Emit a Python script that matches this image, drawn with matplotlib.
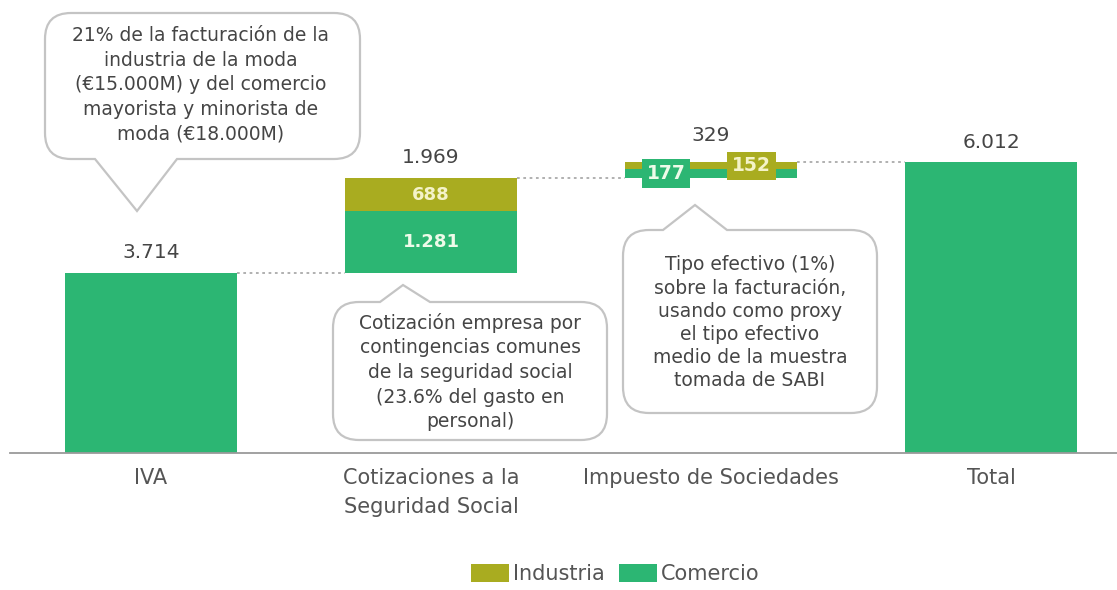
import matplotlib
matplotlib.use("Agg")
import matplotlib.pyplot as plt
from matplotlib.patches import Patch, PathPatch
from matplotlib.path import Path

# datos (millones de euros)
categorias = ["IVA", "Cotizaciones a la\nSeguridad Social", "Impuesto de Sociedades", "Total"]
comercio = [3714, 1281, 177]
industria = [0, 688, 152]

notas = [
    "21% de la facturación de la\nindustria de la moda\n(€15.000M) y del comercio\nmayorista y minorista de\nmoda (€18.000M)",
    "Cotización empresa por\ncontingencias comunes\nde la seguridad social\n(23.6% del gasto en\npersonal)",
    "Tipo efectivo (1%)\nsobre la facturación,\nusando como proxy\nel tipo efectivo\nmedio de la muestra\ntomada de SABI",
]

verde = "#2cb673"
oliva = "#a9ac20"
gris_texto = "#454545"


def fmt(v):
    return f"{v:,.0f}".replace(",", ".")


fig = plt.figure(figsize=(11.17, 5.90), dpi=100)

# capa de anotaciones en pixeles (y hacia abajo)
ov = fig.add_axes([0, 0, 1, 1], zorder=0)
ov.set_xlim(0, 1117)
ov.set_ylim(590, 0)
ov.axis("off")
ov.patch.set_alpha(0)

ax = fig.add_axes([10 / 1117, (590 - 453) / 590, 1107 / 1117, 453 / 590], zorder=1)
ax.patch.set_alpha(0)

ancho = 0.614
x = list(range(len(categorias)))

# barras de la cascada
base = 0
tops = []
for i in range(3):
    ax.bar(x[i], comercio[i], ancho, bottom=base, color=verde, zorder=2)
    if industria[i] > 0:
        ax.bar(x[i], industria[i], ancho, bottom=base + comercio[i], color=oliva, zorder=2)
    base = base + comercio[i] + industria[i]
    tops.append(base)

total = sum(comercio) + sum(industria)
ax.bar(x[3], total, ancho, color=verde, zorder=2)
tops.append(total)

# lineas de conexion
for i in range(3):
    ax.plot([x[i] + ancho / 2, x[i + 1] - ancho / 2], [tops[i], tops[i]],
            linestyle=(0, (1.5, 2)), color="#aaaaaa", linewidth=1.3, zorder=1)

# etiquetas de totales
subtotales = [comercio[i] + industria[i] for i in range(3)] + [total]
offsets = [15, 15, 19, 14]
for i in range(4):
    ax.annotate(fmt(subtotales[i]), xy=(x[i], tops[i]), xytext=(0, offsets[i]),
                textcoords="offset points", ha="center", va="center",
                fontsize=14.5, color=gris_texto)

# etiquetas dentro de los segmentos de cotizaciones
b1 = comercio[0]
ax.text(x[1], b1 + comercio[1] / 2, fmt(comercio[1]), ha="center", va="center",
        fontsize=13, fontweight="bold", color="#eefbe9", zorder=3)
ax.text(x[1], b1 + comercio[1] + industria[1] / 2, fmt(industria[1]), ha="center", va="center",
        fontsize=13, fontweight="bold", color="#f4f3c8", zorder=3)

# etiquetas en caja para el impuesto de sociedades
b2 = tops[1]
ax.text(x[2] - 0.16, b2 + comercio[2] / 2, fmt(comercio[2]), ha="center", va="center",
        fontsize=13.5, fontweight="bold", color="#eefbe9", zorder=3,
        bbox=dict(boxstyle="square,pad=0.25", facecolor=verde, edgecolor="none"))
ax.text(x[2] + 0.145, b2 + comercio[2] + industria[2] / 2, fmt(industria[2]), ha="center",
        va="center", fontsize=13.5, fontweight="bold", color="#f4f3c8", zorder=3,
        bbox=dict(boxstyle="square,pad=0.25", facecolor=oliva, edgecolor="none"))

ax.set_xlim(-0.5036, 3.45)
ax.set_ylim(0, 9360)
ax.set_yticks([])
ax.set_xticks(x)
ax.set_xticklabels(categorias, fontsize=15, color="#555555", linespacing=1.55)
ax.tick_params(axis="x", length=0, pad=11)
for lado in ["top", "right", "left"]:
    ax.spines[lado].set_visible(False)
ax.spines["bottom"].set_color("#9a9a9a")
ax.spines["bottom"].set_linewidth(1.3)


def bocadillo(x0, y0, x1, y1, r, lado, p0, p1, punta):
    verts = [(x0 + r, y0)]
    codes = [Path.MOVETO]
    if lado == "top":
        verts += [(p0, y0), punta, (p1, y0)]
        codes += [Path.LINETO] * 3
    verts += [(x1 - r, y0), (x1, y0), (x1, y0 + r), (x1, y1 - r), (x1, y1), (x1 - r, y1)]
    codes += [Path.LINETO, Path.CURVE3, Path.CURVE3, Path.LINETO, Path.CURVE3, Path.CURVE3]
    if lado == "bottom":
        verts += [(p1, y1), punta, (p0, y1)]
        codes += [Path.LINETO] * 3
    verts += [(x0 + r, y1), (x0, y1), (x0, y1 - r), (x0, y0 + r), (x0, y0), (x0 + r, y0)]
    codes += [Path.LINETO, Path.CURVE3, Path.CURVE3, Path.LINETO, Path.CURVE3, Path.CURVE3]
    ov.add_patch(PathPatch(Path(verts, codes), facecolor="white", edgecolor="#c4c4c4",
                           linewidth=1.6))


bocadillo(45, 13, 360, 159, 26, "bottom", 95, 177, (137, 211))
bocadillo(333, 302, 607, 440, 26, "top", 380, 430, (403, 285))
bocadillo(623, 230, 877, 413, 26, "top", 663, 727, (695, 205))

ov.text(201, 85, notas[0], ha="center", va="center", fontsize=13.5, color=gris_texto,
        linespacing=1.38)
ov.text(470, 372, notas[1], ha="center", va="center", fontsize=13.5, color=gris_texto,
        linespacing=1.38)
ov.text(750, 323, notas[2], ha="center", va="center", fontsize=13.5, color=gris_texto,
        linespacing=1.28)

handles = [Patch(facecolor=oliva, label="Industria"), Patch(facecolor=verde, label="Comercio")]
fig.legend(handles=handles, loc="center", bbox_to_anchor=(0.551, 0.027), ncol=2,
           frameon=False, fontsize=15, handlelength=1.8, handleheight=0.95,
           handletextpad=0.2, columnspacing=0.7, labelcolor="#555555")

fig.savefig("out.png", dpi=100)
